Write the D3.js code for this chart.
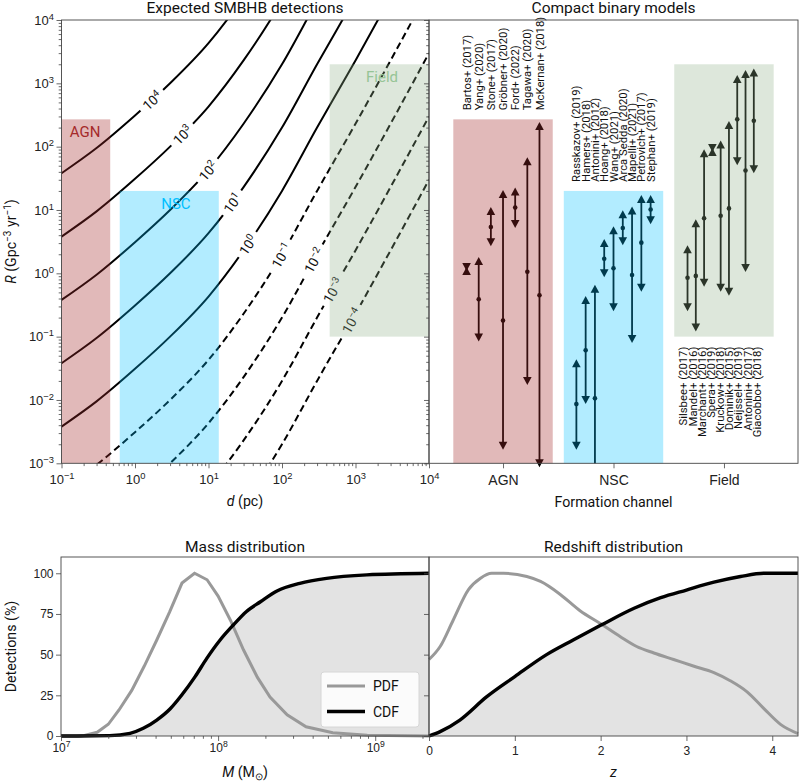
<!DOCTYPE html>
<html>
<head>
<meta charset="utf-8">
<script src="https://cdn.jsdelivr.net/npm/d3@7"></script>
<style>
  body { margin: 0; background: #fff; }
  svg { font-family: Roboto, 'Liberation Sans', sans-serif; }
</style>
</head>
<body>
<svg id="chart" width="799" height="781"></svg>
<script>
// --- expected detections (contours), log10 of the number of detections
const contourLevels = [4, 3, 2, 1, 0, -1, -2, -3, -4]
const contourDistances = [0.1, 0.3, 1, 3, 10, 30, 100, 300, 1000, 3000, 10000]
const contourRates = [
  [3.8e1, 9.5e1, 3.1e2, 1.0e3, 4.3e3, 2.3e4, 2.0e5, 2.0e6, 2.3e7, 2.3e8, 3.0e9],
  [3.8e0, 9.5e0, 3.1e1, 1.0e2, 4.3e2, 2.3e3, 2.0e4, 2.0e5, 2.3e6, 2.3e7, 3.0e8],
  [3.8e-1, 9.5e-1, 3.1e0, 1.0e1, 4.3e1, 2.3e2, 2.0e3, 2.0e4, 2.3e5, 2.3e6, 3.0e7],
  [3.8e-2, 9.5e-2, 3.1e-1, 1.0e0, 4.3e0, 2.3e1, 2.0e2, 2.0e3, 2.3e4, 2.3e5, 3.0e6],
  [3.8e-3, 9.5e-3, 3.1e-2, 1.0e-1, 4.3e-1, 2.3e0, 2.0e1, 2.0e2, 2.3e3, 2.3e4, 3.0e5],
  [3.8e-4, 9.5e-4, 3.1e-3, 1.0e-2, 4.3e-2, 2.3e-1, 2.0e0, 2.0e1, 2.3e2, 2.3e3, 3.0e4],
  [3.8e-5, 9.5e-5, 3.1e-4, 1.0e-3, 4.3e-3, 2.3e-2, 2.0e-1, 2.0e0, 2.3e1, 2.3e2, 3.0e3],
  [3.8e-6, 9.5e-6, 3.1e-5, 1.0e-4, 4.3e-4, 2.3e-3, 2.0e-2, 2.0e-1, 2.3e0, 2.3e1, 3.0e2],
  [3.8e-7, 9.5e-7, 3.1e-6, 1.0e-5, 4.3e-5, 2.3e-4, 2.0e-3, 2.0e-2, 2.3e-1, 2.3e0, 3.0e1]
]
const contourLabelDistances = [1.7, 4.4, 9.8, 21, 34, 98, 270, 490, 885]

// --- formation channel regions
const channels = ['AGN', 'NSC', 'Field']
const channelDistMin = [0.1, 0.62, 445]
const channelDistMax = [0.46, 13.8, 1e4]
const channelRateMin = [1e-3, 1e-3, 0.1]
const channelRateMax = [270, 20, 2000]

// --- compact binary model rates (Gpc^-3 yr^-1)
const agnRefs = ['Bartos+ (2017)', 'Yang+ (2020)', 'Stone+ (2017)', 'Gröbner+ (2020)', 'Ford+ (2022)', 'Tagawa+ (2020)', 'McKernan+ (2018)']
const agnLow = [1.26, 0.097, 3.1, 0.0019, 6.0, 0.02, 0.001]
const agnMid = [null, 0.39, 5.4, 0.18, 10.9, 1.06, 0.45]
const agnHigh = [1.09, 1.56, 9.6, 17.9, 19.6, 59, 212]

const nscRefs = ['Rasskazov+ (2019)', 'Hamers+ (2018)', 'Antonini+ (2012)', 'Hoang+ (2018)', 'Wang+ (2021)', 'Arca Sedda (2020)', 'Mapelli+ (2021)', 'Petrovich+ (2017)', 'Stephan+ (2019)']
const nscLow = [0.0019, 0.01, 1e-4, 1.0, 0.29, 3.2, 0.092, 0.59, 6.9]
const nscMid = [0.0086, 0.061, 0.0106, 1.7, 1.2, 5.2, 0.94, 3.05, 10.2]
const nscHigh = [0.038, 0.38, 0.57, 3.0, 4.8, 8.6, 9.8, 14.9, 14.9]

const fieldRefs = ['Silsbee+ (2017)', 'Mandel+ (2016)', 'Marchant+ (2016)', 'Spera+ (2019)', 'Kruckow+ (2018)', 'Dominik+ (2015)', 'Neijssel+ (2019)', 'Antonini+ (2017)', 'Giacobbo+ (2018)']
const fieldLow = [0.29, 0.14, 0.71, 95, 0.59, 0.51, 59, 1.21, 44]
const fieldMid = [0.85, 0.91, 7.4, null, 8.1, 10.6, 270, 42, 257]
const fieldHigh = [2.4, 6.2, 79, 82, 108, 219, 1170, 1400, 1480]

// --- mass distribution (%)
const massPdfM = [1.0e7, 1.26e7, 1.41e7, 1.70e7, 2.0e7, 2.34e7, 2.82e7, 3.39e7, 4.07e7, 4.9e7, 5.89e7, 7.08e7, 8.51e7, 1.0e8, 1.2e8, 1.45e8, 1.78e8, 2.14e8, 2.75e8, 3.63e8, 5.37e8, 8.9e8, 2.2e9]
const massPdf = [0, 0, 0.3, 2.3, 7.2, 16, 28, 43, 59, 76, 94, 100, 96, 86, 71, 53, 36, 24, 13, 5.7, 2.0, 0.4, 0]
const massCdfM = [1e7, 2.04e7, 2.75e7, 3.34e7, 4.07e7, 4.94e7, 5.87e7, 7.14e7, 8.47e7, 1.03e8, 1.25e8, 1.51e8, 1.86e8, 2.37e8, 3.31e8, 4.9e8, 8.85e8, 2.2e9]
const massCdf = [0, 0.2, 1.6, 4.7, 9.8, 16.6, 25.2, 36.5, 47.7, 59, 68.2, 76.4, 82.5, 89.1, 93.8, 96.9, 99, 100]

// --- redshift distribution (%)
const zPdfZ = [0, 0.13, 0.28, 0.46, 0.6, 0.73, 0.87, 1.14, 1.3, 1.53, 1.76, 2.0, 2.23, 2.42, 2.62, 2.85, 3.08, 3.32, 3.51, 3.71, 3.9, 4.1, 4.3]
const zPdf = [47, 55, 71, 90, 97, 100, 100, 98, 95, 87, 77, 69, 61, 55, 51, 47, 43, 39, 34, 27, 17, 7, 1.5]
const zCdfZ = [0, 0.13, 0.36, 0.67, 1.0, 1.37, 1.68, 2.0, 2.39, 2.7, 3.0, 3.32, 3.63, 3.9, 4.3]
const zCdf = [0, 2.7, 9.8, 24, 36.5, 50, 59, 68, 78.5, 85, 89.7, 94.5, 98, 100, 100]

const svg = d3.select('#chart')
const fillColors = ['#a52a2a', '#00bfff', '#8faf87']
const labelColors = ['#a52a2a', '#00bfff', '#96c496']

const rY = d3.scaleLog().domain([1e-3, 1e4]).range([463.3, 20])
const rYc = rY.copy().clamp(true)
const dX = d3.scaleLog().domain([0.1, 1e4]).range([61.5, 429])
const chanX = d3.scaleLinear().domain([-0.67, 2.67]).range([429, 798])
const mX = d3.scaleLog().domain([1e7, 2.2e9]).range([61, 429])
const zX = d3.scaleLinear().domain([0, 4.3]).range([429, 798])
const pY = d3.scaleLinear().domain([0, 110]).range([736, 557])

const defs = svg.append('defs')
defs.append('clipPath').attr('id', 'clipTL').append('rect')
  .attr('x', 61.5).attr('y', 20).attr('width', 429 - 61.5).attr('height', 463.3 - 20)
const mask = defs.append('mask').attr('id', 'labelMask')
  .attr('maskUnits', 'userSpaceOnUse').attr('x', 0).attr('y', 0).attr('width', 799).attr('height', 781)
mask.append('rect').attr('width', 799).attr('height', 781).attr('fill', '#fff')

function pow10 (sel, e) {
  sel.text(null)
  sel.append('tspan').text('10')
  sel.append('tspan').attr('dy', -5).attr('font-size', '0.72em').text(e < 0 ? '−' + (-e) : e)
}

function minorTicks (scale) {
  const [a, b] = scale.domain()
  const out = []
  for (let e = Math.floor(Math.log10(a)); e < Math.ceil(Math.log10(b)); e++) {
    for (let m = 2; m <= 9; m++) {
      const v = m * Math.pow(10, e)
      if (v > a && v < b) out.push(v)
    }
  }
  return out
}

function styleAxis (g, size) {
  g.select('.domain').remove()
  g.selectAll('line').attr('stroke', '#444').attr('stroke-width', 0.8)
  g.selectAll('text').attr('fill', '#222').attr('font-size', size)
}

// ===== top-left: contours
const contourG = svg.append('g').attr('clip-path', 'url(#clipTL)')
const linesG = contourG.append('g').attr('mask', 'url(#labelMask)')
const contourLine = d3.line().x(d => dX(d[0])).y(d => rY(d[1])).curve(d3.curveMonotoneX)

const paths = contourLevels.map((lev, i) => {
  const pts = contourDistances.map((d, j) => [d, contourRates[i][j]])
  return linesG.append('path').datum(pts)
    .attr('d', contourLine)
    .attr('fill', 'none')
    .attr('stroke', '#000')
    .attr('stroke-width', 2)
    .attr('stroke-dasharray', lev < 0 ? '7,4' : null)
})

function lengthAtX (node, x) {
  let lo = 0
  let hi = node.getTotalLength()
  for (let k = 0; k < 40; k++) {
    const mid = (lo + hi) / 2
    if (node.getPointAtLength(mid).x < x) lo = mid
    else hi = mid
  }
  return lo
}

const labelG = contourG.append('g')
contourLevels.forEach((lev, i) => {
  const node = paths[i].node()
  const L = lengthAtX(node, dX(contourLabelDistances[i]))
  const p = node.getPointAtLength(L)
  const p1 = node.getPointAtLength(L - 5)
  const p2 = node.getPointAtLength(L + 5)
  const ang = Math.atan2(p2.y - p1.y, p2.x - p1.x) * 180 / Math.PI
  const t = labelG.append('text')
    .attr('transform', `translate(${p.x},${p.y}) rotate(${ang})`)
    .attr('text-anchor', 'middle')
    .attr('dy', '0.4em')
    .attr('font-size', 13.5)
    .attr('fill', '#111')
    .call(pow10, lev)
  const w = t.node().getComputedTextLength() + 10
  mask.append('rect')
    .attr('x', -w / 2).attr('y', -8).attr('width', w).attr('height', 16)
    .attr('transform', `translate(${p.x},${p.y}) rotate(${ang})`)
    .attr('fill', '#000')
})

// channel regions over the contours
channels.forEach((c, i) => {
  svg.append('rect')
    .attr('x', dX(channelDistMin[i]))
    .attr('y', rY(channelRateMax[i]))
    .attr('width', dX(channelDistMax[i]) - dX(channelDistMin[i]))
    .attr('height', rY(channelRateMin[i]) - rY(channelRateMax[i]))
    .attr('fill', fillColors[i])
    .attr('opacity', i === 0 ? 0.33 : 0.3)
})
const channelTextD = [0.21, 3.6, 2300]
channels.forEach((c, i) => {
  svg.append('text')
    .attr('x', dX(channelTextD[i]))
    .attr('y', rY(channelRateMax[i]) + 18)
    .attr('text-anchor', 'middle')
    .attr('font-size', 15)
    .attr('fill', labelColors[i])
    .text(c)
})

// ===== top-right: model rates
const groups = [
  { refs: agnRefs, low: agnLow, mid: agnMid, high: agnHigh },
  { refs: nscRefs, low: nscLow, mid: nscMid, high: nscHigh },
  { refs: fieldRefs, low: fieldLow, mid: fieldMid, high: fieldHigh }
]
const barStep = [0.11, 0.084, 0.075]
const barShift = [0, 0, -0.03]
const labelStep = [0.11, 0.084, 0.083]
const labelShift = [0, 0, -0.036]
const inRange = v => v >= 1e-3 && v <= 1e4
const tri = (x, y, up) => up
  ? `M${x - 4.3},${y + 4}L${x + 4.3},${y + 4}L${x},${y - 4}Z`
  : `M${x - 4.3},${y - 4}L${x + 4.3},${y - 4}L${x},${y + 4}Z`

const barsG = svg.append('g')
groups.forEach((g, gi) => {
  const n = g.refs.length
  g.refs.forEach((ref, j) => {
    const x = chanX(gi + barShift[gi] + (j - (n - 1) / 2) * barStep[gi])
    barsG.append('line')
      .attr('x1', x).attr('x2', x)
      .attr('y1', rYc(g.low[j])).attr('y2', rYc(g.high[j]))
      .attr('stroke', '#000').attr('stroke-width', 1.8)
    if (inRange(g.high[j])) barsG.append('path').attr('d', tri(x, rY(g.high[j]), true)).attr('fill', '#000')
    if (inRange(g.low[j])) barsG.append('path').attr('d', tri(x, rY(g.low[j]), false)).attr('fill', '#000')
    if (g.mid[j] !== null) barsG.append('circle').attr('cx', x).attr('cy', rY(g.mid[j])).attr('r', 2.3).attr('fill', '#000')

    const lx = chanX(gi + labelShift[gi] + (j - (n - 1) / 2) * labelStep[gi])
    const ly = gi === 2 ? rY(channelRateMin[gi]) + 10 : rY(channelRateMax[gi]) - 9
    svg.append('text')
      .attr('transform', `translate(${lx},${ly}) rotate(-90)`)
      .attr('text-anchor', gi === 2 ? 'end' : 'start')
      .attr('dy', '0.36em')
      .attr('font-size', 11.3)
      .attr('fill', '#111')
      .text(ref)
  })
})

channels.forEach((c, i) => {
  svg.append('rect')
    .attr('x', chanX(i - 0.45))
    .attr('y', rY(channelRateMax[i]))
    .attr('width', chanX(i + 0.45) - chanX(i - 0.45))
    .attr('height', rY(channelRateMin[i]) - rY(channelRateMax[i]))
    .attr('fill', fillColors[i])
    .attr('opacity', i === 0 ? 0.33 : 0.3)
})

// ===== bottom panels
const areaMass = d3.area().x((d, i) => mX(massCdfM[i])).y0(pY(0)).y1(d => pY(d)).curve(d3.curveMonotoneX)
const lineMassCdf = d3.line().x((d, i) => mX(massCdfM[i])).y(d => pY(d)).curve(d3.curveMonotoneX)
const lineMassPdf = d3.line().x((d, i) => mX(massPdfM[i])).y(d => pY(d))
const areaZ = d3.area().x((d, i) => zX(zCdfZ[i])).y0(pY(0)).y1(d => pY(d)).curve(d3.curveMonotoneX)
const lineZCdf = d3.line().x((d, i) => zX(zCdfZ[i])).y(d => pY(d)).curve(d3.curveMonotoneX)
const lineZPdf = d3.line().x((d, i) => zX(zPdfZ[i])).y(d => pY(d)).curve(d3.curveMonotoneX)

svg.append('path').datum(massCdf).attr('d', areaMass).attr('fill', '#e3e3e3')
svg.append('path').datum(zCdf).attr('d', areaZ).attr('fill', '#e3e3e3')
svg.append('path').datum(massPdf).attr('d', lineMassPdf).attr('fill', 'none').attr('stroke', '#999').attr('stroke-width', 3)
svg.append('path').datum(zPdf).attr('d', lineZPdf).attr('fill', 'none').attr('stroke', '#999').attr('stroke-width', 3)
svg.append('path').datum(massCdf).attr('d', lineMassCdf).attr('fill', 'none').attr('stroke', '#000').attr('stroke-width', 3.4)
svg.append('path').datum(zCdf).attr('d', lineZCdf).attr('fill', 'none').attr('stroke', '#000').attr('stroke-width', 3.4)

// legend
const leg = svg.append('g')
leg.append('rect').attr('x', 321).attr('y', 672).attr('width', 98).attr('height', 55).attr('rx', 3)
  .attr('fill', '#fff').attr('fill-opacity', 0.85).attr('stroke', '#d6d6d6')
leg.append('line').attr('x1', 327).attr('x2', 365).attr('y1', 686).attr('y2', 686).attr('stroke', '#999').attr('stroke-width', 3)
leg.append('line').attr('x1', 327).attr('x2', 365).attr('y1', 711.5).attr('y2', 711.5).attr('stroke', '#000').attr('stroke-width', 3.4)
leg.append('text').attr('x', 373).attr('y', 691).attr('font-size', 14).attr('fill', '#111').text('PDF')
leg.append('text').attr('x', 373).attr('y', 716.5).attr('font-size', 14).attr('fill', '#111').text('CDF')

// ===== frames
const frames = [[61.5, 20, 429, 463.3], [429, 20, 798, 463.3], [61, 557, 429, 736], [429, 557, 798, 736]]
frames.forEach(f => {
  svg.append('rect').attr('x', f[0]).attr('y', f[1]).attr('width', f[2] - f[0]).attr('height', f[3] - f[1])
    .attr('fill', 'none').attr('stroke', '#444').attr('stroke-width', 0.9)
})

// ===== axes
const decadesD = [0.1, 1, 10, 100, 1000, 10000]
const decadesR = [1e-3, 1e-2, 1e-1, 1, 10, 100, 1000, 1e4]
const decadesM = [1e7, 1e8, 1e9]

function logAxis (axis, scale, ticks, pad) {
  return g => {
    g.call(axis(scale).tickValues(ticks).tickSize(5).tickPadding(pad).tickFormat(() => ''))
    g.selectAll('.tick text').each(function (d) { pow10(d3.select(this), Math.round(Math.log10(d))) })
  }
}
function minorAxis (axis, scale) {
  return g => g.call(axis(scale).tickValues(minorTicks(scale)).tickSize(2.8).tickFormat(() => ''))
}

svg.append('g').attr('transform', 'translate(0,463.3)').call(logAxis(d3.axisBottom, dX, decadesD, 6.5)).call(styleAxis, 13)
svg.append('g').attr('transform', 'translate(0,463.3)').call(minorAxis(d3.axisBottom, dX)).call(styleAxis, 13)
svg.append('g').attr('transform', 'translate(61.5,0)').call(logAxis(d3.axisLeft, rY, decadesR, 2.5)).call(styleAxis, 13)
svg.append('g').attr('transform', 'translate(61.5,0)').call(minorAxis(d3.axisLeft, rY)).call(styleAxis, 13)
svg.append('g').attr('transform', 'translate(429,0)').call(d3.axisLeft(rY).tickValues(decadesR).tickSize(5).tickFormat(() => '')).call(styleAxis, 13)
svg.append('g').attr('transform', 'translate(429,0)').call(minorAxis(d3.axisLeft, rY)).call(styleAxis, 13)
svg.append('g').attr('transform', 'translate(0,463.3)')
  .call(d3.axisBottom(chanX).tickValues([0, 1, 2]).tickSize(5).tickPadding(6.5).tickFormat(i => channels[i]))
  .call(styleAxis, 14)

svg.append('g').attr('transform', 'translate(0,736)').call(logAxis(d3.axisBottom, mX, decadesM, 2)).call(styleAxis, 12)
svg.append('g').attr('transform', 'translate(0,736)').call(minorAxis(d3.axisBottom, mX)).call(styleAxis, 12)
svg.append('g').attr('transform', 'translate(0,736)')
  .call(d3.axisBottom(zX).tickValues([0, 1, 2, 3, 4]).tickSize(5).tickPadding(5).tickFormat(d3.format('d')))
  .call(styleAxis, 12)
svg.append('g').attr('transform', 'translate(61,0)')
  .call(d3.axisLeft(pY).tickValues([0, 25, 50, 75, 100]).tickSize(5).tickPadding(2.5))
  .call(styleAxis, 12)
svg.append('g').attr('transform', 'translate(429,0)')
  .call(d3.axisLeft(pY).tickValues([0, 25, 50, 75, 100]).tickSize(5).tickFormat(() => ''))
  .call(styleAxis, 12)

// ===== titles and axis labels
const titles = [['Expected SMBHB detections', 245, 12.5], ['Compact binary models', 613.5, 12.5], ['Mass distribution', 245, 552], ['Redshift distribution', 613.5, 552]]
titles.forEach(t => {
  svg.append('text').attr('x', t[1]).attr('y', t[2]).attr('text-anchor', 'middle')
    .attr('font-size', 15.5).attr('fill', '#111').text(t[0])
})

function label (x, y, rot, parts) {
  const t = svg.append('text')
    .attr('transform', `translate(${x},${y}) rotate(${rot})`)
    .attr('text-anchor', 'middle')
    .attr('font-size', 14.2)
    .attr('fill', '#111')
  parts.forEach(p => {
    const s = t.append('tspan').text(p.t)
    if (p.i) s.attr('font-style', 'italic')
    if (p.dy) s.attr('dy', p.dy)
    if (p.s) s.attr('font-size', p.s)
  })
}

label(16, 241.5, -90, [{ t: 'R', i: true }, { t: ' (Gpc' }, { t: '−3', dy: -5, s: 10 }, { t: ' yr', dy: 5 }, { t: '−1', dy: -5, s: 10 }, { t: ')', dy: 5 }])
label(245, 506, 0, [{ t: 'd', i: true }, { t: ' (pc)' }])
label(613.5, 507, 0, [{ t: 'Formation channel' }])
label(15.5, 646.5, -90, [{ t: 'Detections (%)' }])
label(245, 777, 0, [{ t: 'M', i: true }, { t: ' (M' }, { t: '⊙', dy: 3, s: 9.5 }, { t: ')', dy: -3 }])
label(613.5, 777, 0, [{ t: 'z', i: true }])
</script>
</body>
</html>
